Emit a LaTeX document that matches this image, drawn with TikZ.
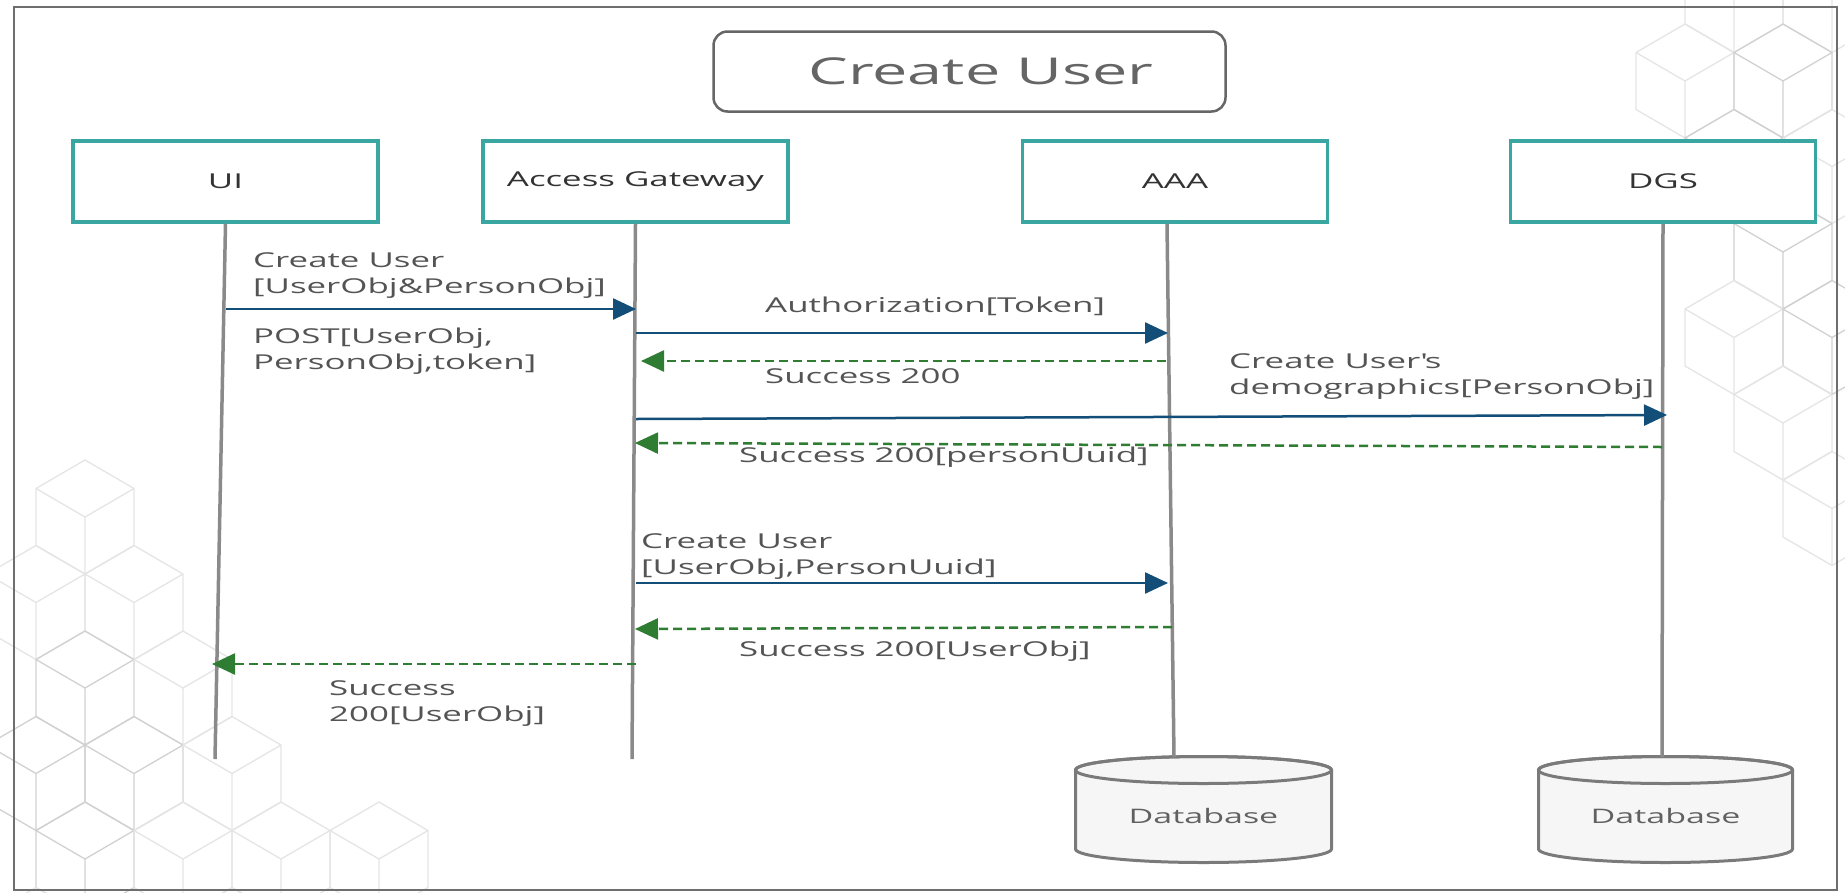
\documentclass[tikz,border=0pt]{standalone}
\usepackage{fontspec}
\setmainfont{Open Sans}
\newfontfamily\lblfont[FakeStretch=1.7]{Open Sans}
\usetikzlibrary{arrows.meta}
\definecolor{tealbox}{HTML}{3AA6A2}
\definecolor{txtgray}{HTML}{545454}
\definecolor{msgblue}{HTML}{124E78}
\definecolor{msggreen}{HTML}{2E7D32}
\definecolor{lifegray}{HTML}{8A8A8A}
\definecolor{framegray}{HTML}{6E6E6E}
\definecolor{dbfill}{HTML}{F6F6F6}
\definecolor{dbline}{HTML}{7A7A7A}
\tikzset{
  bgcube/.pic={\draw (0,-57) -- (49,-28.5) -- (49,28.5) -- (0,57) -- (-49,28.5) -- (-49,-28.5) -- cycle
     (-49,-28.5) -- (0,0) -- (49,-28.5) (0,0) -- (0,57);},
  bgfaint/.style={color=gray!20, line width=1.3pt},
  bgmid/.style={color=gray!36, line width=1.3pt},
  actor/.style={draw=tealbox, line width=3.5pt, fill=white, minimum width=305pt, minimum height=81pt,
     inner sep=0pt, text=black!80, font={\lblfont\fontsize{20.5}{27}\selectfont}},
  lbl/.style={anchor=west, align=left, inner sep=0pt, text=txtgray, font={\lblfont\fontsize{20.5}{26}\selectfont}},
  life/.style={draw=lifegray, line width=3.5pt},
  callmsg/.style={draw=msgblue, line width=2.5pt, -{Triangle[length=23pt,width=21pt]}},
  replymsg/.style={draw=msggreen, line width=2.5pt, dash pattern=on 9pt off 5pt, -{Triangle[length=23pt,width=21pt]}},
  dbshape/.style={draw=dbline, fill=dbfill, line width=3pt},
  dbtext/.style={inner sep=0pt, text=black!62, font={\lblfont\fontsize{20}{26}\selectfont}}
}
\begin{document}
\begin{tikzpicture}[x=1pt,y=-1pt]
\useasboundingbox (0,0) rectangle (1845,892);
\fill[white] (0,0) rectangle (1845,892);
% background decoration
\begin{scope}
\clip (0,0) rectangle (1845,892);
\pic[bgfaint] at (85,517) {bgcube};
\pic[bgfaint] at (36,602.5) {bgcube};
\pic[bgfaint] at (134,602.5) {bgcube};
\pic[bgmid] at (85,688) {bgcube};
\pic[bgfaint] at (183,688) {bgcube};
\pic[bgmid] at (36,773.5) {bgcube};
\pic[bgmid] at (134,773.5) {bgcube};
\pic[bgfaint] at (232,773.5) {bgcube};
\pic[bgmid] at (85,859) {bgcube};
\pic[bgfaint] at (183,859) {bgcube};
\pic[bgfaint] at (281,859) {bgcube};
\pic[bgfaint] at (379,859) {bgcube};
\pic[bgfaint] at (36,944.5) {bgcube};
\pic[bgfaint] at (232,944.5) {bgcube};
\pic[bgfaint] at (1734,-4.5) {bgcube};
\pic[bgfaint] at (1832,-4.5) {bgcube};
\pic[bgfaint] at (1685,81) {bgcube};
\pic[bgmid] at (1783,81) {bgcube};
\pic[bgmid] at (1734,166.5) {bgcube};
\pic[bgfaint] at (1832,166.5) {bgcube};
\pic[bgmid] at (1783,252) {bgcube};
\pic[bgfaint] at (1734,337.5) {bgcube};
\pic[bgmid] at (1832,337.5) {bgcube};
\pic[bgfaint] at (1783,423) {bgcube};
\pic[bgfaint] at (1832,508.5) {bgcube};
\end{scope}
% frame
\draw[framegray, line width=2.5pt] (14,7) rectangle (1837,890);
% title
\node[draw=gray!80!black, line width=2.5pt, rounded corners=14pt, fill=white, minimum width=512pt, minimum height=80pt] (title) at (969.5,71.5) {};
\node[inner sep=0pt, text=txtgray!90!white, font={\lblfont\fontsize{37}{44}\selectfont}] (titletext) at (981,71) {Create User};
% actors
\node[actor] (ui) at (225.5,181.5) {UI};
\node[actor] (ag) at (635.5,181.5) {Access Gateway};
\node[actor] (aaa) at (1175,181.5) {AAA};
\node[actor] (dgs) at (1663,181.5) {DGS};
% databases
\filldraw[dbshape] (1075.5,770) -- (1075.5,849) arc[start angle=180, end angle=360, x radius=128pt, y radius=13.5pt]
   -- (1331.5,770) arc[start angle=0, end angle=180, x radius=128pt, y radius=13.5pt] -- cycle;
\draw[dbline, line width=3pt] (1203.5,770) ellipse [x radius=128pt, y radius=13.5pt];
\filldraw[dbshape] (1538.5,770) -- (1538.5,849) arc[start angle=180, end angle=360, x radius=127pt, y radius=13.5pt]
   -- (1792.5,770) arc[start angle=0, end angle=180, x radius=127pt, y radius=13.5pt] -- cycle;
\draw[dbline, line width=3pt] (1665.5,770) ellipse [x radius=127pt, y radius=13.5pt];
\node[dbtext] (db1) at (1203.5,816) {Database};
\node[dbtext] (db2) at (1665.5,816) {Database};
% lifelines
\coordinate (uiend) at (215,759);
\coordinate (agend) at (632,759);
\coordinate (aaaend) at (1174,757);
\coordinate (dgsend) at (1662,757);
\draw[life] (ui.south) -- (uiend);
\draw[life] (ag.south) -- (agend);
\draw[life] ([xshift=-8pt]aaa.south) -- (aaaend);
\draw[life] (dgs.south) -- (dgsend);
% message end points
\coordinate (m1a) at (226,309);   \coordinate (m1b) at (636,309);
\coordinate (m2a) at (636,333);   \coordinate (m2b) at (1168,333);
\coordinate (m3a) at (1166,361);  \coordinate (m3b) at (641,361);
\coordinate (m4a) at (636,419);   \coordinate (m4b) at (1667,415);
\coordinate (m5a) at (1662,447);  \coordinate (m5b) at (635,443);
\coordinate (m6a) at (636,583);   \coordinate (m6b) at (1168,583);
\coordinate (m7a) at (1172,627);  \coordinate (m7b) at (635,629);
\coordinate (m8a) at (636,664);   \coordinate (m8b) at (212,664);
\draw[callmsg] (m1a) -- (m1b);
\draw[callmsg] (m2a) -- (m2b);
\draw[replymsg] (m3a) -- (m3b);
\draw[callmsg] (m4a) -- (m4b);
\draw[replymsg] (m5a) -- (m5b);
\draw[callmsg] (m6a) -- (m6b);
\draw[replymsg] (m7a) -- (m7b);
\draw[replymsg] (m8a) -- (m8b);
% labels
\node[lbl] (l1) at (253,276) {Create User\\{[UserObj\&PersonObj]}};
\node[lbl] (l2) at (253,351) {POST[UserObj,\\PersonObj,token]};
\node[lbl] (l3) at (765,306) {Authorization[Token]};
\node[lbl] (l4) at (765,376) {Success 200};
\node[lbl] (l5) at (1229,377) {Create User\textquotesingle s\\demographics[PersonObj]};
\node[lbl] (l6) at (739,457) {Success 200[personUuid]};
\node[lbl] (l7) at (641,557) {Create User\\{[UserObj,PersonUuid]}};
\node[lbl] (l8) at (739,651) {Success 200[UserObj]};
\node[lbl] (l9) at (329,704) {Success\\200[UserObj]};
\end{tikzpicture}
\end{document}
